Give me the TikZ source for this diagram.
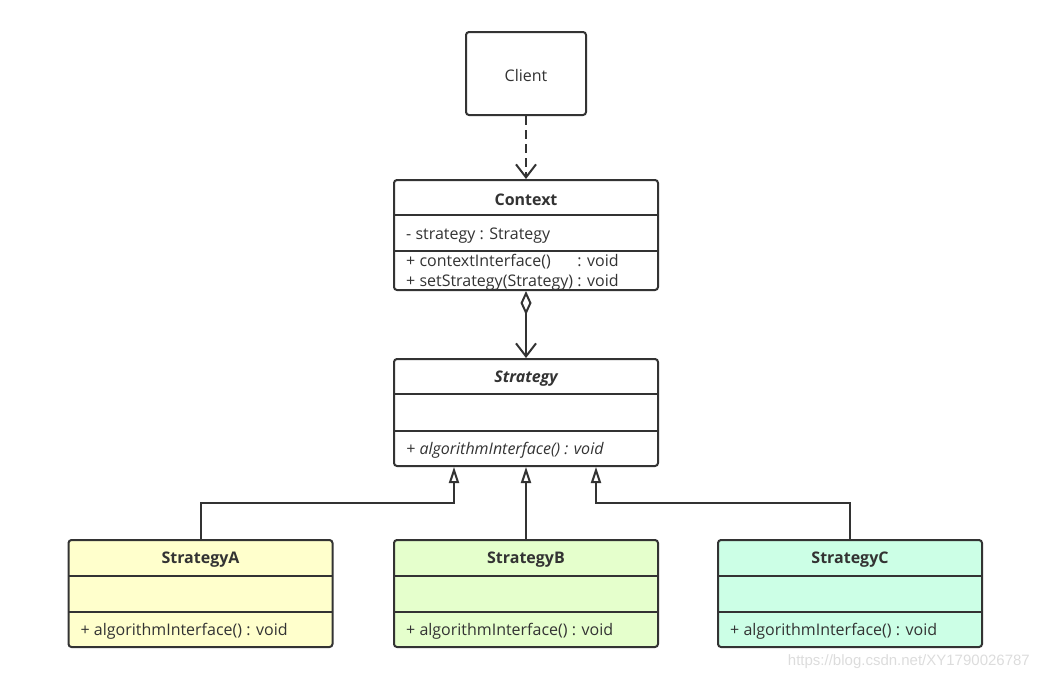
\documentclass[tikz,border=0pt]{standalone}
\usepackage{fontspec}
\setmainfont{Open Sans}
\newfontfamily\wmfont{Liberation Sans}
\usetikzlibrary{arrows.meta}
\definecolor{ink}{HTML}{333333}
\definecolor{fillA}{HTML}{FFFFCC}
\definecolor{fillB}{HTML}{E5FFCC}
\definecolor{fillC}{HTML}{CCFFE6}
\definecolor{wm}{HTML}{DCDCDC}
\tikzset{
  umlbox/.style={draw=ink, line width=2pt, rounded corners=3pt, inner sep=0pt, minimum width=264pt},
  sep/.style={draw=ink, line width=2pt},
  conn/.style={draw=ink, line width=2pt},
  ttl/.style={font=\fontsize{16}{18}\selectfont\bfseries, text=ink, inner sep=0pt},
  mem/.style={font=\fontsize{16}{18}\selectfont, text=ink, inner sep=0pt, anchor=west},
  inh/.style={-{Triangle[open, length=16pt, width=10pt, line width=2pt]}},
}
\begin{document}
\begin{tikzpicture}[x=1pt, y=-1pt]
\useasboundingbox (0,0) rectangle (1040,681);
% Client
\node[umlbox, fill=white, minimum width=120pt, minimum height=83pt] (client) at (526,73.5) {};
\node[font=\fontsize{16}{18}\selectfont, text=ink, inner sep=0pt] (clienttxt) at (526,75) {Client};
% Context
\node[umlbox, fill=white, minimum height=110pt] (context) at (526,235) {};
\node[ttl] (contextname) at (526,199.5) {Context};
\draw[sep] (394,215) -- (658,215);
\draw[sep] (394,251) -- (658,251);
\node[mem] (ctxattr) at (406,235.5) {- strategy : Strategy};
\node[mem] (ctxm1) at (406,262.5) {\makebox[0pt][l]{+ contextInterface()}\phantom{+ setStrategy(Strategy) }: void};
\node[mem] (ctxm2) at (406,282.5) {+ setStrategy(Strategy) : void};
% Strategy
\node[umlbox, fill=white, minimum height=107pt] (strategy) at (526,412.5) {};
\node[ttl, font=\fontsize{16}{18}\selectfont\bfseries\itshape] (strategyname) at (526,378.5) {Strategy};
\draw[sep] (394,394) -- (658,394);
\draw[sep] (394,431) -- (658,431);
\node[mem, font=\fontsize{16}{18}\selectfont\itshape] (strm) at (406,450.5) {+ algorithmInterface() : void};
% Concrete strategies
\foreach \n/\cx/\col in {A/200.5/fillA, B/526/fillB, C/850/fillC}{
  \node[umlbox, fill=\col, minimum height=107pt] (s\n) at (\cx,593.5) {};
  \node[ttl] (s\n name) at (\cx,559.5) {Strategy\n};
  \draw[sep] ([xshift=-132pt]\cx,576) -- ([xshift=132pt]\cx,576);
  \draw[sep] ([xshift=-132pt]\cx,612) -- ([xshift=132pt]\cx,612);
  \node[mem] (s\n m) at ([xshift=-120pt]\cx,631.5) {+ algorithmInterface() : void};
}
% Connectors
\draw[conn, dash pattern=on 9pt off 5pt, -{Straight Barb[length=13pt, width=20pt, line width=2pt]}] (client.south) -- (context.north);
\draw[conn, {Diamond[open, length=24pt, width=11pt, line width=2pt]}-{Straight Barb[length=13pt, width=20pt, line width=2pt]}] (context.south) -- (strategy.north);
\coordinate (a1) at (201,503);
\coordinate (a2) at (454,503);
\coordinate (c1) at (850,503);
\coordinate (c2) at (596,503);
\draw[conn, inh] (sA.north -| a1) -- (a1) -- (a2) -- (a2 |- strategy.south);
\draw[conn, inh] (sB.north) -- (strategy.south);
\draw[conn, inh] (sC.north -| c1) -- (c1) -- (c2) -- (c2 |- strategy.south);
% Watermark
\node[font=\wmfont\fontsize{15}{17}\selectfont, text=wm, inner sep=0pt, anchor=east] (wmark) at (1030,662) {https://blog.csdn.net/XY1790026787};
\end{tikzpicture}
\end{document}
